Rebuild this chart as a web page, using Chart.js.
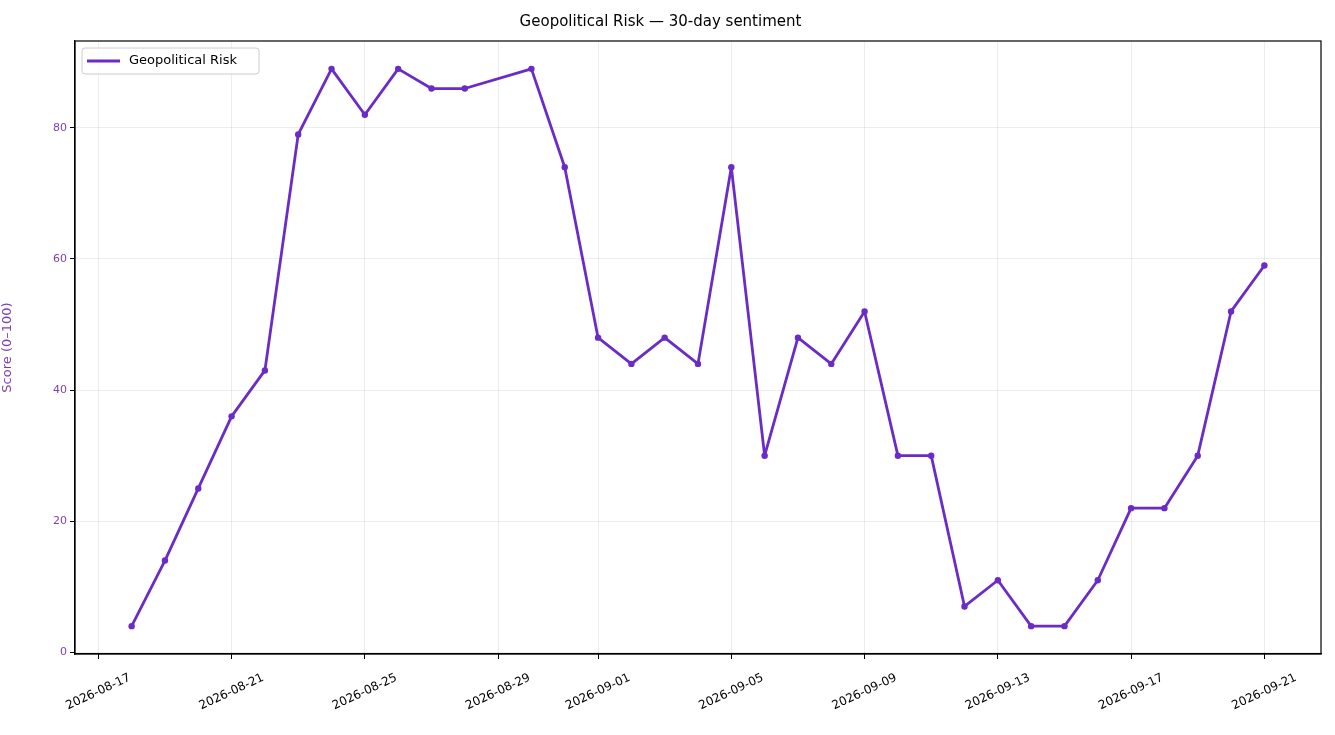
<!DOCTYPE html>
<html><head><meta charset="utf-8">
<script src="https://cdn.jsdelivr.net/npm/chart.js@4"></script>
<style>html,body{margin:0;padding:0;background:#fff}#w{width:1335px;height:735px}</style>
</head><body><div id="w"><canvas id="c"></canvas></div>
<script>
const dates = ["2026-08-18","2026-08-19","2026-08-20","2026-08-21","2026-08-22","2026-08-23","2026-08-24","2026-08-25","2026-08-26","2026-08-27","2026-08-28","2026-08-30","2026-08-31","2026-09-01","2026-09-02","2026-09-03","2026-09-04","2026-09-05","2026-09-06","2026-09-07","2026-09-08","2026-09-09","2026-09-10","2026-09-11","2026-09-12","2026-09-13","2026-09-14","2026-09-15","2026-09-16","2026-09-17","2026-09-18","2026-09-19","2026-09-20","2026-09-21"];
const scores = [4,14,25,36,43,79,89,82,89,86,86,89,74,48,44,48,44,74,30,48,44,52,30,30,7,11,4,4,11,22,22,30,52,59];
const tickLabels = ["2026-08-17","2026-08-21","2026-08-25","2026-08-29","2026-09-01","2026-09-05","2026-09-09","2026-09-13","2026-09-17","2026-09-21"];
const base = Date.UTC(2026,7,17);
const dayOf = s => (Date.parse(s+"T00:00:00Z")-base)/86400000;
const pts = dates.map((d,i)=>({x:dayOf(d),y:scores[i]}));
const tickDays = tickLabels.map(dayOf);
const purple = '#6a2bc7';
new Chart(document.getElementById('c'),{
 type:'line',
 data:{datasets:[{label:'Geopolitical Risk',data:pts,borderColor:purple,backgroundColor:purple,borderWidth:2.8,borderJoinStyle:'round',pointRadius:3.2,pointBackgroundColor:purple,pointBorderWidth:0,tension:0}]},
 options:{responsive:true,maintainAspectRatio:false,animation:false,
  layout:{padding:{left:0,right:14,top:0,bottom:0}},
  plugins:{
   title:{display:true,text:'Geopolitical Risk — 30-day sentiment',color:'#000',font:{family:'DejaVu Sans',size:15,weight:'normal'},padding:{top:13,bottom:10}},
   legend:{display:false}
  },
  scales:{
   x:{type:'linear',min:-0.7,max:36.7,
    afterBuildTicks:s=>{s.ticks=tickDays.map(v=>({value:v}));},
    afterFit:s=>{s.height=81;},
    ticks:{display:false},
    grid:{color:'rgba(0,0,0,0.07)',tickColor:'#000',tickLength:5},
    border:{color:'#000',width:1.2}},
   y:{min:-0.25,max:93.25,
    afterBuildTicks:s=>{s.ticks=[0,20,40,60,80].map(v=>({value:v}));},
    afterFit:s=>{s.width=75;},
    title:{display:true,text:'Score (0–100)',color:'#7b3fb5',font:{family:'DejaVu Sans',size:13},padding:{top:0,bottom:12}},
    ticks:{color:'#7b3fb5',font:{family:'DejaVu Sans',size:11}},
    grid:{color:'rgba(0,0,0,0.07)',tickColor:'#000',tickLength:5},
    border:{color:'#000',width:1.2}}
  }
 },
 plugins:[{id:'frame',afterDraw(c){const a=c.chartArea,g=c.ctx,xs=c.scales.x;g.save();g.strokeStyle='#000';g.lineWidth=1.2;g.strokeRect(a.left,a.top,a.right-a.left,a.bottom-a.top);
  g.fillStyle='#000';g.font='12px "DejaVu Sans"';g.textAlign='center';g.textBaseline='middle';
  tickDays.forEach((d,i)=>{const x=xs.getPixelForValue(d);g.save();g.translate(x,a.bottom+38);g.rotate(-25*Math.PI/180);g.fillText(tickLabels[i],0,0);g.restore();});
  g.textAlign='left';
  g.fillStyle='rgba(255,255,255,0.8)';g.strokeStyle='#ccc';g.lineWidth=1;g.beginPath();g.roundRect(a.left+7,a.top+7,177,26,3);g.fill();g.stroke();
  g.strokeStyle=purple;g.lineWidth=2.8;g.beginPath();g.moveTo(a.left+12,a.top+20);g.lineTo(a.left+45,a.top+20);g.stroke();
  g.fillStyle='#000';g.font='13px "DejaVu Sans"';g.textBaseline='middle';g.fillText(c.data.datasets[0].label,a.left+54,a.top+20);g.restore();}}]
});
</script></body></html>
